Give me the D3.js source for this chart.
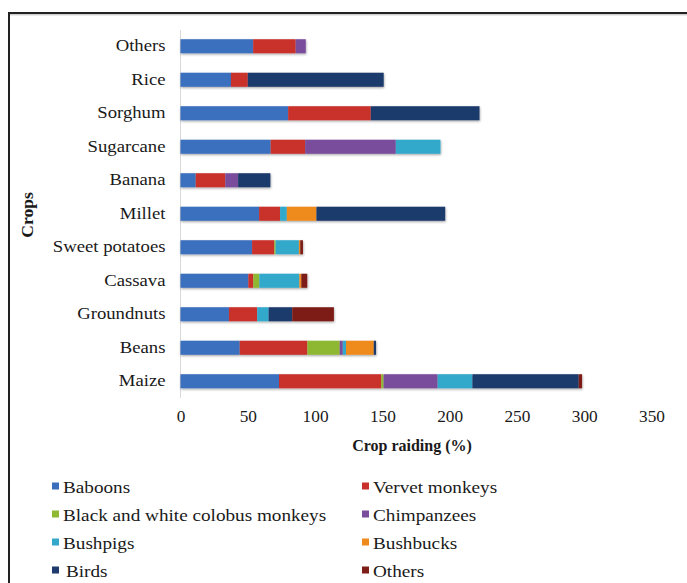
<!DOCTYPE html>
<html><head><meta charset="utf-8">
<script src="https://cdn.jsdelivr.net/npm/d3@7"></script>
<style>body{margin:0;background:#fff;}svg{display:block;font-family:"Liberation Serif","Times New Roman",serif;}</style>
</head><body><svg id="c" width="687" height="583"></svg>
<script>
const crops = ["Others","Rice","Sorghum","Sugarcane","Banana","Millet","Sweet potatoes","Cassava","Groundnuts","Beans","Maize"];
const seriesNames = ["Baboons","Vervet monkeys","Black and white colobus monkeys","Chimpanzees","Bushpigs","Bushbucks","Birds","Others"];
const colors = ["#3b6fbe","#c9302c","#8fb833","#7a4e9c","#33a8cb","#ef8a1d","#1f3a6d","#7d1f18"];
const baboons   = [54, 37.5, 80, 67, 11.3, 58.4, 53.2, 50.4, 36, 44, 73.2];
const vervet    = [31.6, 12.5, 61.4, 25.6, 22, 15.6, 16.5, 3.7, 21, 50.3, 76];
const colobus   = [0, 0, 0, 0, 0, 0, 1, 4.5, 0, 24, 1.7];
const chimps    = [7.5, 0, 0, 67.4, 9.5, 0, 0, 0, 0, 2.3, 40.2];
const bushpigs  = [0, 0, 0, 33.2, 0, 5, 17.3, 29.7, 8.5, 2.4, 25.8];
const bushbucks = [0, 0, 0, 0, 0, 22, 1, 1.5, 0, 20.6, 0];
const birds     = [0, 101, 80.8, 0, 24, 95.7, 0, 0, 17.5, 1.7, 79];
const others    = [0, 0, 0, 0, 0, 0, 2, 4.4, 31, 0, 2.5];
const xTicks = [0,50,100,150,200,250,300,350];

const seriesVals = [baboons,vervet,colobus,chimps,bushpigs,bushbucks,birds,others];
const keys = seriesNames.map((n,i)=>"s"+i);
const rows = crops.map((c,ci)=>{const r={crop:c}; keys.forEach((k,si)=>r[k]=seriesVals[si][ci]); return r;});
const stack = d3.stack().keys(keys)(rows);

const svg = d3.select("#c");
// frame
svg.append("path").attr("d","M9,583 L9,13 L687,13").attr("fill","none").attr("stroke","#222").attr("stroke-width",2);
svg.append("line").attr("x1",10).attr("x2",687).attr("y1",14.8).attr("y2",14.8).attr("stroke","#bbb").attr("stroke-width",1);

const defs = svg.append("defs");
const f = defs.append("filter").attr("id","sh").attr("x","-5%").attr("y","-30%").attr("width","110%").attr("height","180%");
f.append("feDropShadow").attr("dx",0.5).attr("dy",1.2).attr("stdDeviation",1).attr("flood-color","#000").attr("flood-opacity",0.35);

const x = d3.scaleLinear().domain([0,350]).range([180.5,651.5]);
const y = d3.scaleBand().domain(crops).range([29.5,398]).paddingInner(0.58).paddingOuter(0.29);

// y axis line
svg.append("line").attr("x1",x(0)).attr("x2",x(0)).attr("y1",30).attr("y2",398).attr("stroke","#d9d9d9").attr("stroke-width",1);

const g = svg.append("g").attr("filter","url(#sh)");
stack.forEach((layer,si)=>{
  g.selectAll(null).data(layer.filter(d=>d[1]-d[0]>0)).enter().append("rect")
   .attr("x",d=>x(d[0])).attr("width",d=>x(d[1])-x(d[0]))
   .attr("y",d=>y(d.data.crop)).attr("height",y.bandwidth())
   .attr("fill",colors[si]);
});

// category labels (horizontally stretched like the reference)
const sxCat = 1.17;
const yAxis = d3.axisLeft(y).tickSize(0).tickPadding(15);
const ya = svg.append("g").attr("transform",`translate(${x(0)},0)`).call(yAxis);
ya.select(".domain").remove();
ya.selectAll("text").attr("font-size",16).attr("fill","#1a1a1a").style("font-family","Liberation Serif")
  .attr("x",-15/sxCat).attr("transform",`scale(${sxCat},1)`);

// x axis labels
const xAxis = d3.axisBottom(x).tickValues(xTicks).tickSize(0).tickPadding(0);
const xa = svg.append("g").attr("transform","translate(0,411)").call(xAxis);
xa.select(".domain").remove();
xa.selectAll("text").attr("font-size",16).attr("fill","#1a1a1a").style("font-family","Liberation Serif")
  .attr("transform","scale(1.08,1)");

svg.append("text").attr("transform","translate(412,451)").attr("text-anchor","middle").attr("font-size",16).attr("font-weight","bold").attr("fill","#1a1a1a").text("Crop raiding (%)");
svg.append("text").attr("transform","translate(33,215) rotate(-90) scale(1.1,1)").attr("text-anchor","middle").attr("font-size",16).attr("font-weight","bold").attr("fill","#1a1a1a").text("Crops");

// legend
const lg = svg.append("g");
seriesNames.forEach((n,i)=>{
  const col = i%2, row = Math.floor(i/2);
  const lx = col===0 ? 52 : 362, ly = 487 + row*28;
  lg.append("rect").attr("x",lx).attr("y",ly-4.5).attr("width",7).attr("height",7).attr("fill",colors[i]);
  lg.append("text").attr("transform",`translate(${lx + (i===6?14:11)},${ly+5.5}) scale(1.2,1)`).attr("font-size",16).attr("fill","#1a1a1a").text(n);
});
</script></body></html>
